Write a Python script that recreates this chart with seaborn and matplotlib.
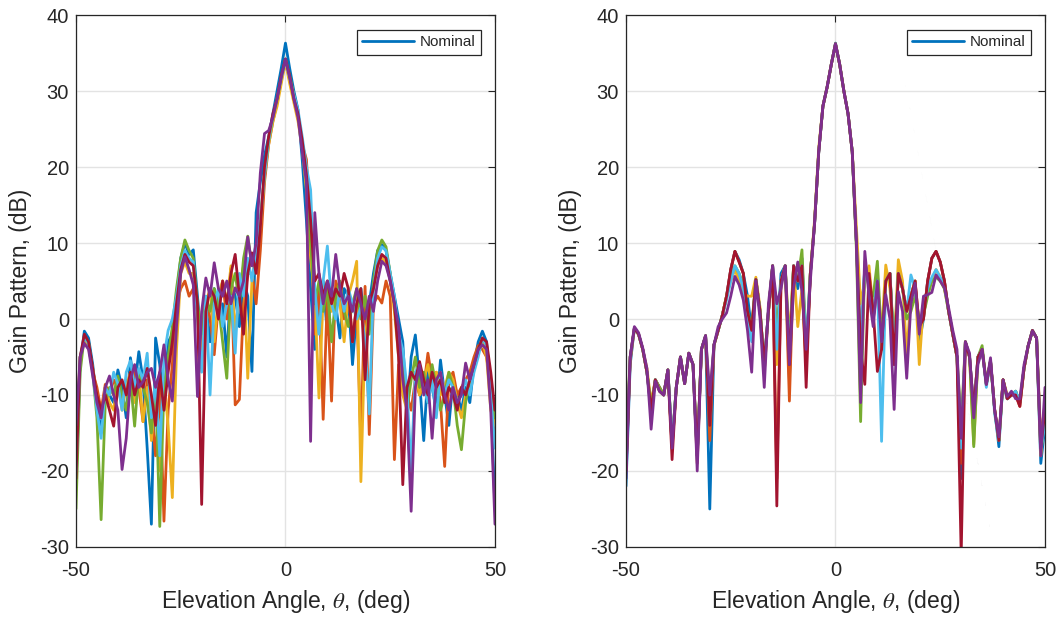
import matplotlib
matplotlib.use("Agg")
import matplotlib.pyplot as plt
from matplotlib.lines import Line2D
import pandas as pd
import seaborn as sns

# ---------------- data (1 deg steps) ----------------
angles = list(range(-50, 51))

series_names = ["Nominal", "Run 2", "Run 3", "Run 4", "Run 5", "Run 6", "Run 7"]
series_colors = ["#0072BD", "#D95319", "#EDB120", "#77AC30", "#4DBEEE", "#A2142F", "#7E2F8E"]

# left panel
left_nominal = [
    -22, -6, -1.6, -2.5, -6, -11, -15, -9, -10, -11,
    -6.7, -9, -13, -5.1, -9, -4.3, -8, -17, -27, -2.5,
    -6, -12, -3, -2, 3, 8, 10, 8.5, 9.1, 3,
    -3.8, 2, -3, 4, 0, 2, -5, 5, 3, -1,
    5, 3, -6.9, 14, 18, 21.5, 24, 27, 30, 33,
    36.3, 33, 30, 27.5, 21, 13, 4, -4, 3, 5,
    -2, 4, 2, -2.5, 4, 3, -6, 1, 4, -1,
    2, 6, 9, 9.8, 9, 6, 3, 0, -3, -13,
    -5, -2.1, -8, -16, -7, -9, -12, -5.4, -10, -14,
    -8, -10, -12, -9, -11, -6, -3, -1.6, -3, -10,
    -25]
left_run2 = [
    -18, -5, -2.7, -3.5, -7, -9, -12, -8.6, -10, -8,
    -9, -11, -8, -10, -7, -9, -13.5, -8, -12, -18,
    -9, -26.6, -12, -6, 2, 4, 5, 3, 4, 1,
    -4, 3, 0, -4.7, 2, 5, 0, 6.7, -11.3, -10.6,
    2, 6, 6, 2, 9, 18, 23, 26, 28.5, 31.5,
    34.2, 31.5, 29, 26.5, 23, 21, 12, -2, 4, -13.2,
    3, -10.8, 5, 3, 0, 4, -3, 2, -16.5, 4.3,
    -15.2, 2, 3, 2.1, 5, 3, -18.5, -6, -8, -10,
    -12, -8, -10, -9, -4.5, -8, -7, -11, -19.4, -8,
    -7, -10, -9, -8, -7, -5, -3.5, -4, -5, -9,
    -15]
left_run3 = [
    -16, -5, -2.7, -3.8, -6.5, -10, -13, -9, -11, -12,
    -8, -12, -9, -7, -11, -7, -13.5, -9, -16, -10,
    -20, -8, -14, -23.5, -4, 6, 7.5, 6, 6, 1,
    -5, 2, 4, -3, 3, 5, 2, 7, -2, 4,
    7, -7.8, 5, 9, 12, 19, 23, 26, 28, 31,
    33.8, 31, 28.5, 26, 22.5, 17, 8, 3, -10.4, 3,
    5, 1, 4, 2, -3, 3, 5, 7.6, -21.4, -2,
    1, 4, 7, 8, 7.5, 5, 1, -5, -10, -12,
    -22, -7, -10, -8, -6, -9, -7, -10, -9, -7,
    -8, -11, -13, -10, -8, -6, -4, -3, -5, -12,
    -14]
left_run4 = [
    -25, -7, -2.2, -3, -7, -13, -26.4, -11, -9, -10,
    -7.5, -10, -12, -8, -14.1, -7, -9, -11, -15, -8,
    -27.3, -9, -5, -1, 4, 8, 10.4, 9, 8, 2,
    -2, 3, 1, 4, 2, -3, -7.8, 4, 6, 2,
    8, 10.9, 7, 9, 13, 19, 23.5, 26.5, 29, 31.8,
    34.2, 32, 29.5, 27, 23, 20, 10, 2, 5, 1,
    4, -3, 3, 5, 1, -1, 2, 4, 0, 3,
    -2, 5, 9, 10.4, 9.5, 6, 2, -4, -6, -12,
    -8, -5, -9, -7, -11, -6, -9, -12, -10, -7,
    -9, -14, -17.2, -11, -8, -6, -4, -2.5, -3.5, -8,
    -13]
left_run5 = [
    -20, -5, -2.4, -3.2, -7, -12, -15.7, -9, -10, -7,
    -8.5, -12, -7, -5.5, -9, -6.5, -8, -4.5, -13, -8,
    -18, -5, -1.5, 0, 3, 7, 9, 8, 7.5, 0,
    -7, 3, -10, 2, 4, -1, 2, 3, -4.5, 6,
    3, 8, 5, 9, 13, 19, 23.5, 26.8, 29, 31.7,
    34, 31.7, 29.5, 27.5, 24, 20, 17, 4, -2, 5,
    9.6, 2, 0, 4, 1, 4, 2, 0, 1.5, -3,
    -12.5, 4, 8, 9.5, 9, 6, 3, -2, -4, -9,
    -20, -7, -6, -9, -11, -8, -13, -7, -10, -8,
    -9, -11, -10, -8, -10, -7, -5, -2.5, -3.5, -10,
    -17]
left_run6 = [
    -21, -5, -2, -3, -6.5, -10, -12, -10, -12, -14.1,
    -9, -8, -10, -7, -10, -8, -9, -6.5, -10, -14,
    -7, -12, -7, -3, 2, 6.5, 8.5, 7.5, 7, 2,
    -24.4, 1, 4, 3, 0, 5, 2, 6, 8.5, 3,
    -2, 6, 8.7, 6, 12, 20, 24, 27, 29, 32,
    34.2, 32, 29, 27, 23.5, 19, 13, 5, 6, 3,
    5, 2, 4, 3, 6, 4, -3, 2, 4, -8,
    2, 4, 7, 8.5, 8, 5, 2, -5, -21.8, -9,
    -7, -8, -5.6, -8, -10, -7, -9, -8, -11, -9,
    -10, -12, -9, -10, -8, -6, -4, -2.5, -3, -7,
    -12]
left_run7 = [
    -14, -5, -3.2, -4, -7.5, -11, -13, -9, -7.5, -10,
    -12, -19.8, -15.7, -8, -6, -9, -8.2, -7, -6.5, -9,
    -7, -3.4, -8, -10.8, -1, 6, 8.2, 6.5, 4.5, -10.2,
    1, 5.4, 3, 7.4, 4, 3, 5, 2, 4.1, 3,
    5, 10.8, 7, 10, 19.2, 24.4, 24.8, 26.5, 29, 31.8,
    34.2, 31.8, 29, 26.5, 22, 18, -16.1, 14, 6, 2,
    5, 3, 8.5, 4, 2, 3, 1, 4, 2, 0,
    3, 1, 5, 7.6, 7, 5, 2, -1, -8, -12,
    -25.3, -9, -6, -10, -8, -15.7, -8, -7, -10, -12,
    -9, -11, -10, -5.8, -8, -6, -4, -3.4, -4, -12,
    -27]

# right panel
right_nominal = [
    -22, -6, -1.2, -2, -4, -7, -11.5, -8, -9, -10,
    -6.7, -16.5, -9, -5, -8.5, -4.5, -6, -18, -4, -2.2,
    -25, -3.4, -1.5, 0.5, 3, 6.5, 8.9, 7.8, 6, 3,
    -1.5, 5.2, 1, -6, 1, 7, -3, 6, 7, -8,
    7, 4, 8, -5, 6, 12.5, 22, 28, 30.5, 33.5,
    36.3, 33.5, 30, 27, 22, 10, -4, 7, 6, 0,
    6, -4, 5, 6, -5, 6, 4, 1, 3, 5,
    -3, 0, 5, 8, 8.9, 7.5, 5, 1, -2, -5,
    -21, -3, -5, -12, -5, -4, -8.6, -5.5, -12, -16.8,
    -8, -10.5, -10, -9.5, -11, -6.5, -3.5, -1.5, -2.5, -19,
    -14]
right_run2 = [
    -20, -5.5, -1.2, -2, -4, -7, -12, -8, -9, -10,
    -6.7, -17, -9, -5, -8.5, -4.5, -6, -19, -4, -2.2,
    -16, -3.4, -1.5, 0.5, 3, 6.5, 8.9, 7.5, 6, 0,
    -2, 5.2, 1, -7, 1, 7, -21, 5, 7, -10.8,
    7, 5, 5, -6, 6, 12.5, 22, 28, 30.5, 33.5,
    36.2, 33.5, 30, 27, 22, 10, -5, 6, 6, 0,
    4, -4, 5, 6, -6, 6, 4, 1, 3, 5,
    -1, 0, 5, 8, 8.9, 7.5, 5, 1, -2, -5,
    -19, -3, -5, -12, -5, -4, -8.6, -5.5, -12, -16,
    -8, -10.5, -10, -10, -11.5, -6.5, -3.5, -1.5, -2.5, -16,
    -11]
right_run3 = [
    -17, -5, -1.4, -2, -4, -6.5, -11, -8, -9.5, -10,
    -6.7, -16.5, -9, -5, -8.5, -4.5, -6, -18, -4, -2.5,
    -12, -3.5, -1.5, 0.5, 3, 5, 6.5, 5, 3.5, 3,
    3, 5.5, 1.5, -7, 1, 7, -6, 5, 7, -3,
    7, -1, 4, -6, 6, 13, 22.5, 28, 30.5, 33.5,
    36.2, 33.5, 30, 27, 22, 12, 2, 5, 7, 1,
    5, -2, 7.1, 4, -4, 7.8, 5, -4.7, 3, 5,
    -6, 2, 4, 5, 6.5, 5.5, 4, 1, -2, -5,
    -16, -3, -5, -16.5, -5, -4, -8.6, -5.5, -12, -16,
    -8, -10, -10, -9.5, -11, -6.5, -3.5, -1.6, -2.5, -18,
    -12]
right_run4 = [
    -19, -5, -1.3, -2, -4, -7, -11.5, -8, -9, -10,
    -6.7, -16.5, -9, -5, -8.5, -4.5, -6, -18, -4, -2.2,
    -11, -3.4, -1.5, 0.5, 3, 5.5, 7, 6, 4.5, 1,
    -1, 5.2, 1, -6, 1, 7, -2, 5, 7, -4,
    7, 5, 9.1, -4, 6, 12.5, 22, 28, 30.5, 33.5,
    36.2, 33.5, 30, 27, 22, 9, -13.5, 7.6, 4, 3,
    7.6, -3, 5, 6, -4, 6, 4, 0, 1, 3,
    0, 0.5, 3, 5, 5.5, 5, 4, 1, -2, -5,
    -14, -3, -5, -16.8, -5, -3.5, -8.5, -5.5, -12, -16,
    -8, -10.5, -10, -9.5, -11, -6.5, -3.5, -1.6, -2.5, -17,
    -13]
right_run5 = [
    -18, -5, -1.3, -2, -4, -7, -12.5, -8, -9.5, -10,
    -6.7, -16.5, -9, -5, -8.5, -4.5, -6, -18.5, -4, -2.2,
    -13, -3.4, -1.5, 0.5, 2.5, 5, 7, 6, 4, 0,
    -3, 5.2, 1, -6, 1, 7, -4, 5, 7, -5,
    7, 5, 7, -4, 6, 12.5, 22, 28, 30.5, 33.5,
    36.2, 33.5, 30, 27, 22, 10, -4, 7, 5, 1,
    5, -16.1, 5, 6, -5, 6, 4, 1, 5.8, 4,
    -1, 1, 4, 5.5, 6.5, 5.5, 4.5, 1, -2, -5,
    -17, -3, -5, -12, -5, -4, -9, -5.5, -12.5, -16,
    -8.5, -10.5, -10, -9.5, -11, -6.5, -3.5, -1.5, -2.5, -17,
    -14]
right_run6 = [
    -20, -5, -1.2, -2, -4, -7, -12, -8, -9.5, -10,
    -6.7, -18.5, -9, -5, -8.5, -4.5, -6, -18, -4, -2.2,
    -14, -3.4, -1.5, 0.5, 3, 6.5, 8.9, 7.5, 6, 1,
    -1.5, 5.2, 1, -6, 1, 7, -24.6, 5, 7, -6,
    7, 5, 7, -9, 6, 12.5, 22, 28, 30.5, 33.5,
    36.2, 33.5, 30, 27, 22, 10, -4, -8.6, 6, 1,
    -6.9, -4, 5, 6, -6, 6, 4, 1, 3, 5,
    -1, 0, 5, 8, 8.9, 7.5, 5, 1, -2, -5,
    -31, -3, -5, -12, -5, -4, -8.6, -5.5, -12, -16,
    -8, -10.5, -10, -10, -11.5, -6.5, -3.5, -1.5, -2.5, -17,
    -12]
right_run7 = [
    -21, -5, -1.0, -1.8, -3.8, -6.5, -14.5, -8.2, -9.5, -10,
    -6.7, -17, -9, -5, -8.5, -4.5, -6, -20, -4, -2.2,
    -10, -3.4, -1.0, 0.0, 0.8, 3, 5.6, 4.5, 2.5, -1.5,
    -7, 5, 0, -9, 2, 7, 2, 4, 7, -6,
    4, 7.5, 3.6, -4, 5, 12.5, 22, 28, 30.5, 33.5,
    36.2, 33.5, 30, 27, 22, 10, -11, 8.9, 3, -1,
    5, -3, 3.2, 0, -11.9, 3.6, 1, -7.8, 2, 4.7,
    -2, 3, 3.2, 3.5, 5.8, 5, 4.1, 1.5, -1.5, -4,
    -15.7, -3, -4.5, -13, -6, -4, -8.6, -5.1, -12, -15.5,
    -8, -10.2, -9.5, -10.5, -10.5, -6, -3.5, -1.6, -2.5, -18,
    -9]

left_series = [left_nominal, left_run2, left_run3, left_run4, left_run5, left_run6, left_run7]
right_series = [right_nominal, right_run2, right_run3, right_run4, right_run5, right_run6, right_run7]

x_ticks = [-50, 0, 50]
y_ticks = [-30, -20, -10, 0, 10, 20, 30, 40]
x_label = r"Elevation Angle, $\theta$, (deg)"
y_label = "Gain Pattern, (dB)"


def long_frame(series_list):
    rows = []
    for name, vals in zip(series_names, series_list):
        for a, v in zip(angles, vals):
            rows.append({"angle": a, "gain": v, "series": name})
    return pd.DataFrame(rows)


# ---------------- figure ----------------
sns.set_style("white")
plt.rcParams["font.family"] = ["Liberation Sans", "DejaVu Sans"]
plt.rcParams["mathtext.fontset"] = "stix"
plt.rcParams["axes.unicode_minus"] = False

dark = "#262626"
fig = plt.figure(figsize=(10.61, 6.18), dpi=100)
ax_l = fig.add_axes([0.0716, 0.1149, 0.3949, 0.8608])
ax_r = fig.add_axes([0.5900, 0.1149, 0.3949, 0.8608])

for ax, ser in [(ax_l, left_series), (ax_r, right_series)]:
    df = long_frame(ser)
    sns.lineplot(data=df, x="angle", y="gain", hue="series", hue_order=series_names,
                 palette=series_colors, estimator=None, legend=False, ax=ax,
                 linewidth=2.0, sort=True)
    ax.set_xlim(-50, 50)
    ax.set_ylim(-30, 40)
    ax.set_xticks(x_ticks)
    ax.set_yticks(y_ticks)
    ax.grid(True, color="#e3e3e3", linewidth=1.0)
    ax.set_axisbelow(True)
    for sp in ax.spines.values():
        sp.set_color(dark)
        sp.set_linewidth(0.9)
        sp.set_visible(True)
    ax.tick_params(direction="in", top=True, right=True, length=5, width=0.8,
                   color=dark, labelsize=14.5, labelcolor=dark)
    ax.tick_params(axis="x", pad=10)
    ax.tick_params(axis="y", pad=5)
    ax.set_xlabel(x_label, fontsize=16.5, color=dark)
    ax.set_ylabel(y_label, fontsize=16.5, color=dark)
    ax.xaxis.set_label_coords(0.5, -0.078)
    ax.yaxis.set_label_coords(-0.105, 0.5)
    handle = Line2D([], [], color=series_colors[0], linewidth=2)
    leg = ax.legend([handle], [series_names[0]], loc="upper right",
                    bbox_to_anchor=(0.967, 0.972), borderaxespad=0, frameon=True,
                    fancybox=False, edgecolor=dark, framealpha=1, fontsize=11,
                    handlelength=3.4, borderpad=0.35, handletextpad=0.4)
    leg.get_frame().set_linewidth(0.9)

fig.savefig("out.png", dpi=100)
